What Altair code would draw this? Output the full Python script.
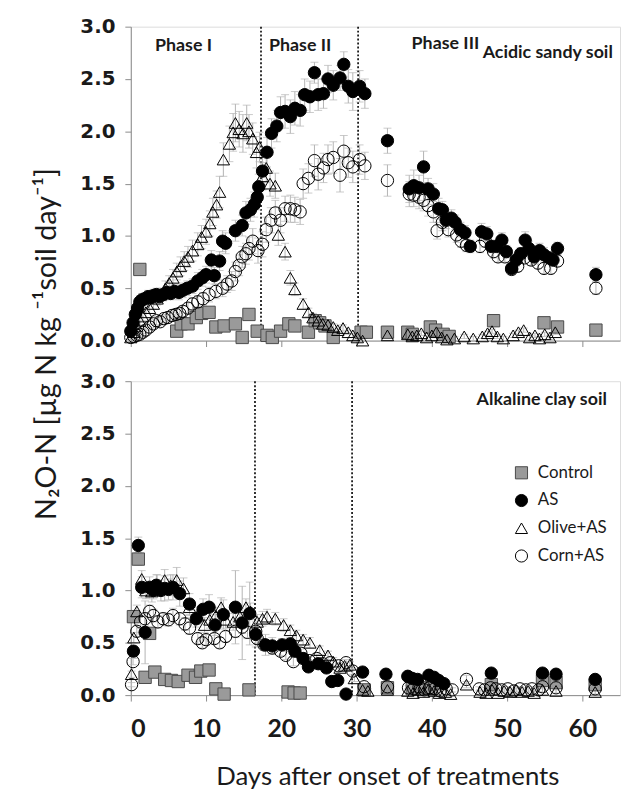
import altair as alt
import pandas as pd

# ---------------- data (day, N2O-N, error) ----------------
TREATMENTS = ["Control", "AS", "Olive+AS", "Corn+AS"]
DRAW_ORDER = ["Control", "AS", "Corn+AS", "Olive+AS"]

ACID_CONTROL = [(1.2,0.68,0.05),(6.1,0.09,0.02),(6.7,0.16,0.03),(7.6,0.16,0.03),(8.7,0.22,0.04),(9.4,0.26,0.04),
    (10.4,0.27,0.04),(11.3,0.13,0.03),(12.4,0.14,0.03),(13.9,0.16,0.03),(14.8,0.03,0.02),(15.7,0.25,0.05),
    (16.8,0.09,0.02),(18.1,0.05,0.02),(18.8,0.03,0.02),(19.9,0.09,0.02),(21.0,0.16,0.03),(21.8,0.14,0.03),
    (23.6,0.08,0.02),(24.5,0.19,0.03),(25.1,0.17,0.03),(25.8,0.14,0.03),(26.9,0.03,0.02),(30.6,0.08,0.02),
    (31.3,0.08,0.02),(34.1,0.08,0.02),(36.8,0.08,0.02),(37.4,0.06,0.02),(39.8,0.13,0.02),(40.5,0.10,0.02),
    (41.5,0.06,0.02),(42.3,0.04,0.02),(48.2,0.19,0.02),(54.9,0.17,0.02),(56.7,0.13,0.02),(61.8,0.10,0.02)]

ACID_AS = [(0.0,0.09,0.03),(0.3,0.17,0.04),(0.6,0.25,0.05),(0.9,0.31,0.05),(1.2,0.37,0.06),(1.5,0.39,0.06),
    (1.9,0.40,0.06),(2.3,0.42,0.06),(2.7,0.41,0.06),(3.0,0.43,0.06),(3.4,0.44,0.06),(3.8,0.42,0.06),(4.3,0.44,0.06),
    (4.8,0.46,0.06),(5.3,0.45,0.06),(5.8,0.47,0.07),(6.4,0.46,0.07),(6.9,0.48,0.07),(7.5,0.50,0.07),(8.2,0.52,0.07),
    (8.9,0.57,0.08),(9.5,0.60,0.08),(10.0,0.63,0.08),(10.7,0.77,0.09),(11.1,0.62,0.08),(11.8,0.76,0.09),
    (12.2,0.95,0.10),(12.6,0.93,0.10),(13.9,1.05,0.10),(14.8,1.10,0.10),(15.3,1.22,0.11),(15.9,1.25,0.11),
    (16.4,1.30,0.12),(16.8,1.37,0.12),(17.0,1.47,0.12),(17.5,1.62,0.13),(18.1,1.80,0.14),(18.7,1.98,0.14),
    (19.4,2.05,0.15),(19.9,2.18,0.15),(20.5,2.19,0.16),(21.2,2.14,0.16),(21.8,2.22,0.16),(22.5,2.20,0.15),
    (23.1,2.35,0.15),(23.8,2.33,0.15),(24.4,2.56,0.10),(24.9,2.35,0.15),(25.6,2.36,0.14),(26.2,2.50,0.13),
    (26.9,2.44,0.14),(27.8,2.51,0.12),(28.3,2.64,0.12),(28.9,2.43,0.16),(29.5,2.38,0.18),(30.4,2.43,0.15),
    (31.1,2.36,0.14),(34.1,1.91,0.12),(37.0,1.45,0.13),(37.6,1.48,0.15),(38.3,1.46,0.12),(38.9,1.66,0.15),
    (39.5,1.45,0.10),(40.2,1.40,0.10),(40.9,1.26,0.10),(41.4,1.25,0.08),(41.9,1.15,0.08),(42.6,1.17,0.08),
    (43.1,1.13,0.07),(43.8,1.06,0.07),(44.4,1.03,0.07),(45.1,0.90,0.06),(46.6,1.04,0.08),(47.3,1.02,0.07),
    (47.9,0.90,0.06),(48.6,0.90,0.06),(49.3,0.96,0.07),(49.9,0.85,0.06),(50.6,0.69,0.05),(51.2,0.77,0.06),
    (51.8,0.83,0.06),(52.4,0.96,0.08),(52.9,0.88,0.07),(53.6,0.80,0.07),(54.3,0.86,0.07),(54.9,0.82,0.07),
    (55.6,0.79,0.06),(56.1,0.77,0.06),(56.7,0.88,0.06),(61.8,0.63,0.07)]

ACID_OLIVE = [(0.0,0.03,0.02),(0.4,0.08,0.03),(0.8,0.14,0.03),(1.2,0.19,0.04),(1.6,0.23,0.04),(2.0,0.27,0.05),
    (2.5,0.31,0.05),(3.0,0.35,0.05),(3.5,0.40,0.06),(4.0,0.44,0.06),(4.6,0.50,0.07),(5.1,0.55,0.07),(5.6,0.60,0.08),
    (6.1,0.66,0.08),(6.6,0.71,0.09),(7.1,0.76,0.09),(7.6,0.80,0.10),(8.2,0.86,0.10),(8.9,0.92,0.11),(9.4,0.99,0.11),
    (10.0,1.04,0.12),(10.5,1.12,0.12),(10.9,1.23,0.13),(11.4,1.30,0.13),(11.8,1.42,0.15),(12.3,1.73,0.16),
    (13.1,1.88,0.17),(13.6,1.99,0.18),(13.9,2.08,0.18),(14.4,2.02,0.17),(14.9,1.98,0.18),(15.4,2.08,0.17),
    (15.7,2.00,0.16),(16.2,1.93,0.15),(16.7,1.80,0.15),(17.1,1.85,0.14),(17.5,1.57,0.13),(18.0,1.65,0.14),
    (18.5,1.50,0.12),(19.2,1.48,0.12),(19.6,1.01,0.10),(20.5,0.85,0.08),(21.2,0.60,0.07),(21.8,0.49,0.06),
    (22.9,0.35,0.05),(23.6,0.27,0.04),(24.2,0.22,0.04),(24.9,0.19,0.03),(25.5,0.16,0.03),(26.2,0.15,0.03),
    (26.9,0.13,0.03),(27.5,0.10,0.02),(28.2,0.12,0.03),(28.9,0.08,0.02),(29.5,0.05,0.02),(30.1,0.03,0.02),
    (30.8,0.00,0.02),(34.1,0.05,0.02),(36.8,0.06,0.02),(37.4,0.04,0.02),(38.0,0.05,0.02),(38.6,0.07,0.02),
    (39.3,0.03,0.02),(40.0,0.05,0.02),(40.6,0.08,0.02),(41.3,0.03,0.02),(42.0,0.01,0.02),(43.0,0.02,0.02),
    (44.3,0.04,0.02),(45.5,0.02,0.02),(46.7,0.04,0.02),(47.4,0.07,0.02),(48.0,0.09,0.02),(48.7,0.04,0.02),
    (49.5,0.02,0.02),(50.8,0.05,0.02),(51.5,0.08,0.02),(52.2,0.10,0.02),(53.0,0.03,0.02),(53.7,0.05,0.02),
    (54.3,0.02,0.02),(55.0,0.06,0.02),(55.7,0.03,0.02),(56.4,0.08,0.02)]

ACID_CORN = [(0.0,0.03,0.02),(0.4,0.04,0.02),(0.8,0.05,0.02),(1.2,0.06,0.02),(1.6,0.08,0.03),(2.0,0.10,0.03),
    (2.5,0.13,0.03),(3.0,0.16,0.04),(3.4,0.19,0.04),(3.9,0.18,0.04),(4.4,0.21,0.04),(4.9,0.22,0.05),(5.5,0.24,0.05),
    (6.0,0.25,0.05),(6.5,0.26,0.05),(6.9,0.28,0.05),(7.6,0.31,0.05),(8.2,0.35,0.06),(8.9,0.37,0.06),(9.6,0.40,0.06),
    (10.4,0.44,0.07),(11.3,0.47,0.07),(12.2,0.50,0.08),(12.8,0.54,0.08),(13.4,0.57,0.09),(13.9,0.66,0.09),
    (14.4,0.72,0.10),(14.8,0.80,0.10),(15.3,0.83,0.10),(15.7,0.88,0.11),(16.2,0.95,0.12),(16.9,0.86,0.12),
    (17.5,0.92,0.12),(18.0,1.06,0.12),(18.6,1.15,0.12),(19.2,1.22,0.12),(19.9,1.15,0.12),(20.5,1.26,0.12),
    (21.2,1.26,0.13),(21.8,1.25,0.12),(22.5,1.23,0.12),(22.9,1.50,0.14),(23.6,1.55,0.14),(24.4,1.72,0.15),
    (24.9,1.59,0.15),(25.6,1.65,0.14),(26.2,1.73,0.14),(26.9,1.75,0.15),(27.8,1.58,0.16),(28.3,1.81,0.15),
    (28.9,1.70,0.14),(29.5,1.66,0.15),(30.4,1.73,0.14),(31.1,1.67,0.13),(34.1,1.53,0.15),(37.0,1.40,0.12),
    (37.6,1.39,0.11),(38.3,1.37,0.11),(38.9,1.34,0.10),(39.5,1.29,0.10),(40.2,1.23,0.10),(40.7,1.05,0.08),
    (41.4,1.13,0.08),(42.2,1.06,0.07),(43.3,1.01,0.07),(43.9,0.95,0.06),(44.6,0.91,0.06),(46.4,0.90,0.06),
    (47.1,0.95,0.06),(48.2,0.85,0.06),(48.8,0.80,0.05),(49.7,0.80,0.05),(50.6,0.68,0.05),(51.4,0.71,0.05),
    (52.3,0.79,0.05),(53.2,0.77,0.05),(54.1,0.74,0.05),(54.9,0.69,0.05),(55.8,0.69,0.05),(56.7,0.76,0.05),
    (61.8,0.50,0.06)]

ALK_CONTROL = [(0.35,0.75,0.05),(1.0,1.30,0.06),(1.9,0.17,0.05),(2.5,0.59,0.05),(3.2,0.22,0.03),(4.5,0.15,0.03),
    (5.4,0.14,0.03),(6.3,0.13,0.03),(7.6,0.19,0.03),(8.6,0.17,0.03),(9.3,0.23,0.03),(10.4,0.24,0.03),
    (11.3,0.06,0.02),(12.4,0.01,0.02),(15.7,0.05,0.02),(20.9,0.03,0.02),(21.7,0.02,0.02),(22.5,0.02,0.02),
    (31.0,0.05,0.02),(34.1,0.07,0.02),(37.4,0.06,0.02),(38.7,0.07,0.02),(39.9,0.06,0.02),(47.9,0.10,0.02),
    (54.7,0.14,0.02),(56.5,0.12,0.02),(61.7,0.10,0.02)]

ALK_AS = [(0.35,0.42,0.05),(1.0,1.43,0.08),(1.45,1.03,0.10),(1.9,0.60,0.30),(2.5,1.03,0.10),(3.0,1.00,0.08),
    (3.4,1.05,0.10),(4.0,1.00,0.10),(4.5,1.02,0.12),(5.0,1.01,0.10),(5.6,1.03,0.12),(6.5,0.97,0.12),(7.8,0.87,0.10),
    (8.7,0.73,0.08),(9.6,0.82,0.10),(10.4,0.84,0.12),(11.2,0.67,0.10),(12.3,0.77,0.14),(13.9,0.84,0.35),
    (14.8,0.69,0.35),(15.8,0.78,0.30),(16.6,0.58,0.12),(17.9,0.48,0.10),(18.8,0.47,0.08),(20.1,0.48,0.06),
    (21.2,0.49,0.06),(21.8,0.42,0.05),(22.9,0.35,0.05),(23.6,0.27,0.04),(24.9,0.30,0.04),(26.0,0.26,0.04),
    (26.7,0.13,0.03),(27.5,0.14,0.03),(28.6,0.01,0.02),(30.8,0.22,0.04),(33.9,0.20,0.03),(36.8,0.18,0.03),
    (37.4,0.16,0.03),(38.1,0.15,0.03),(39.6,0.19,0.03),(40.3,0.17,0.03),(40.9,0.14,0.03),(41.6,0.11,0.02),
    (47.9,0.21,0.03),(54.7,0.21,0.03),(56.5,0.20,0.03),(61.7,0.15,0.03)]

ALK_OLIVE = [(0.1,0.20,0.03),(0.4,0.55,0.05),(0.8,0.80,0.06),(1.45,1.11,0.08),(2.0,1.00,0.08),(2.8,0.99,0.10),
    (3.5,1.05,0.10),(4.5,1.10,0.10),(5.3,1.05,0.10),(6.1,1.10,0.12),(7.0,1.02,0.10),(7.8,0.84,0.08),(8.9,0.76,0.08),
    (9.8,0.67,0.07),(10.5,0.72,0.08),(11.3,0.76,0.08),(12.0,0.84,0.09),(12.6,0.72,0.08),(13.6,0.70,0.08),
    (14.5,0.75,0.08),(15.3,0.84,0.08),(15.9,0.80,0.08),(16.8,0.70,0.07),(17.5,0.73,0.07),(18.1,0.75,0.07),
    (19.2,0.73,0.06),(20.3,0.67,0.06),(21.2,0.62,0.05),(22.0,0.57,0.05),(22.9,0.53,0.05),(23.8,0.50,0.05),
    (25.1,0.43,0.04),(26.2,0.38,0.04),(26.9,0.32,0.04),(27.8,0.26,0.03),(28.4,0.28,0.03),(29.1,0.29,0.03),
    (29.7,0.16,0.03),(30.8,0.05,0.02),(31.5,0.04,0.02),(34.1,0.05,0.02),(36.8,0.04,0.02),(37.5,0.02,0.02),
    (38.2,0.05,0.02),(38.9,0.03,0.02),(39.6,0.06,0.02),(40.3,0.04,0.02),(41.0,0.02,0.02),(41.8,0.03,0.02),
    (42.5,0.01,0.02),(44.6,0.10,0.03),(46.4,0.03,0.02),(47.2,0.02,0.02),(48.0,0.05,0.02),(48.8,0.02,0.02),
    (49.6,0.04,0.02),(50.4,0.03,0.02),(51.2,0.05,0.02),(52.0,0.03,0.02),(52.8,0.04,0.02),(53.6,0.02,0.02),
    (54.7,0.05,0.02),(56.5,0.04,0.02),(61.7,0.03,0.02)]

ALK_CORN = [(0.1,0.10,0.02),(0.3,0.32,0.03),(0.8,0.61,0.05),(1.3,0.70,0.06),(1.9,0.73,0.06),(2.5,0.80,0.06),
    (3.0,0.76,0.06),(3.6,0.70,0.06),(4.3,0.73,0.06),(5.0,0.72,0.06),(5.6,0.76,0.07),(6.5,0.73,0.06),(7.2,0.68,0.06),
    (7.8,0.64,0.06),(8.9,0.54,0.05),(9.5,0.50,0.05),(10.0,0.53,0.05),(11.1,0.54,0.05),(11.8,0.50,0.05),
    (12.6,0.56,0.05),(13.9,0.61,0.06),(14.8,0.65,0.06),(15.5,0.60,0.06),(16.6,0.61,0.06),(16.8,0.54,0.05),
    (17.7,0.48,0.05),(18.8,0.45,0.05),(19.9,0.42,0.04),(20.6,0.38,0.04),(21.6,0.32,0.04),(22.6,0.40,0.04),
    (23.7,0.33,0.04),(24.7,0.35,0.04),(25.5,0.30,0.03),(26.5,0.31,0.03),(27.6,0.28,0.03),(28.6,0.31,0.03),
    (29.5,0.23,0.03),(31.0,0.08,0.02),(34.1,0.08,0.02),(36.9,0.07,0.02),(37.6,0.06,0.02),(38.3,0.08,0.02),
    (39.0,0.05,0.02),(39.7,0.07,0.02),(40.4,0.06,0.02),(41.1,0.04,0.02),(41.9,0.06,0.02),(42.7,0.05,0.02),
    (44.6,0.15,0.04),(46.3,0.06,0.02),(47.0,0.05,0.02),(47.8,0.07,0.02),(48.5,0.06,0.02),(49.3,0.05,0.02),
    (50.1,0.06,0.02),(50.9,0.04,0.02),(51.7,0.06,0.02),(52.5,0.05,0.02),(53.3,0.06,0.02),(54.2,0.05,0.02),
    (54.7,0.08,0.02),(56.5,0.07,0.02),(61.7,0.06,0.02)]

ACID_PHASE_BOUNDS = [17.3, 30.2]
ALK_PHASE_BOUNDS = [16.5, 29.4]

ACID_LABELS = [("Phase I", 7.0, 2.81), ("Phase II", 22.5, 2.81), ("Phase III", 41.8, 2.83),
               ("Acidic sandy soil", 55.4, 2.75)]
ALK_LABELS = [("Alkaline clay soil", 54.6, 2.82)]

X_TICKS = [0, 10, 20, 30, 40, 50, 60]
Y_TICKS = [0, 0.5, 1.0, 1.5, 2.0, 2.5, 3.0]

# ---------------- styling ----------------
SHAPES = ["square", "circle", "triangle-up", "circle"]
FILLS = ["#9a9a9a", "#000000", "transparent", "transparent"]
STROKES = ["#4a4a4a", "#000000", "#000000", "#000000"]
ERR_COLOR = "#b3b3b3"
AX_COLOR = "#8c8c8c"

series = {
    "acid": {"Control": ACID_CONTROL, "AS": ACID_AS, "Olive+AS": ACID_OLIVE, "Corn+AS": ACID_CORN},
    "alk": {"Control": ALK_CONTROL, "AS": ALK_AS, "Olive+AS": ALK_OLIVE, "Corn+AS": ALK_CORN},
}
rows = []
for soil, sdict in series.items():
    for t in DRAW_ORDER:
        for d, v, e in sdict[t]:
            rows.append(dict(soil=soil, treatment=t, day=d, n2o=v, lo=max(v - e, 0.0), hi=v + e,
                             ord=DRAW_ORDER.index(t)))
df = pd.DataFrame(rows)

X_SCALE = alt.Scale(domain=[0, 65], nice=False, zero=False)
Y_SCALE = alt.Scale(domain=[0, 3], nice=False)

Y_TITLE = "N\u2082O-N [\u00b5g N kg \u207b\u00b9soil day\u207b\u00b9]"


def panel(soil, bounds, labels, bottom):
    d = df[df.soil == soil]
    xaxis = alt.Axis(values=X_TICKS, labels=bottom, grid=False, tickSize=6, tickColor=AX_COLOR,
                     domainColor=AX_COLOR, labelFont="Lato", labelFontWeight="bold", labelFontSize=25,
                     labelColor="#1a1a1a", labelPadding=16,
                     title="Days after onset of treatments" if bottom else None,
                     titleFont="Lato", titleFontWeight="normal", titleFontSize=26, titleColor="#1a1a1a",
                     titlePadding=22, titleX=259)
    if bottom:
        yaxis = alt.Axis(values=Y_TICKS, format=".1f", grid=False, tickSize=6, tickColor=AX_COLOR,
                         domainColor=AX_COLOR, labelFont="DejaVu Sans", labelFontWeight="bold",
                         labelFontSize=20, labelColor="#1a1a1a", labelPadding=10, title=None)
    else:
        yaxis = alt.Axis(values=Y_TICKS, format=".1f", grid=False, tickSize=6, tickColor=AX_COLOR,
                         domainColor=AX_COLOR, labelFont="DejaVu Sans", labelFontWeight="bold",
                         labelFontSize=20, labelColor="#1a1a1a", labelPadding=10, title=Y_TITLE,
                         titleFont="Lato", titleFontWeight="normal", titleFontSize=29,
                         titleColor="#1a1a1a", titleX=-70, titleY=320, titleAngle=270)

    def X(f="day:Q"):
        return alt.X(f, scale=X_SCALE, axis=xaxis)

    def Y(f):
        return alt.Y(f, scale=Y_SCALE, axis=yaxis)

    base = alt.Chart(d)
    rule = base.mark_rule(color=ERR_COLOR, strokeWidth=1).encode(x=X(), y=Y("lo:Q"), y2="hi:Q")
    cap_hi = base.mark_tick(orient="horizontal", color=ERR_COLOR, size=8, thickness=1).encode(x=X(), y=Y("hi:Q"))
    cap_lo = base.mark_tick(orient="horizontal", color=ERR_COLOR, size=8, thickness=1).encode(x=X(), y=Y("lo:Q"))

    if bottom:
        leg = alt.Legend(title=None, orient="none", legendX=386, legendY=84, labelFont="Lato",
                         labelFontSize=17, labelColor="#1a1a1a", symbolSize=150, symbolStrokeWidth=1,
                         rowPadding=10, labelOffset=8)
    else:
        leg = None
    pts = base.mark_point(opacity=1, fillOpacity=1, strokeWidth=1, size=155).encode(
        x=X(), y=Y("n2o:Q"),
        shape=alt.Shape("treatment:N", scale=alt.Scale(domain=TREATMENTS, range=SHAPES), legend=leg),
        fill=alt.Fill("treatment:N", scale=alt.Scale(domain=TREATMENTS, range=FILLS), legend=leg),
        stroke=alt.Stroke("treatment:N", scale=alt.Scale(domain=TREATMENTS, range=STROKES), legend=leg),
        order=alt.Order("ord:Q"),
    )
    phase = alt.Chart(pd.DataFrame({"day": bounds})).mark_rule(
        color="#000000", strokeWidth=1.6, strokeDash=[2, 2]).encode(x=X())
    lab = pd.DataFrame(labels, columns=["label", "day", "n2o"])
    txt = alt.Chart(lab).mark_text(font="Lato", fontWeight="bold", fontSize=18, color="#1a1a1a").encode(
        x=X(), y=Y("n2o:Q"), text="label:N")
    return alt.layer(phase, rule, cap_hi, cap_lo, pts, txt).properties(width=494, height=317)


top = panel("acid", ACID_PHASE_BOUNDS, ACID_LABELS, False)
bot = panel("alk", ALK_PHASE_BOUNDS, ALK_LABELS, True)

chart = alt.vconcat(top, bot, spacing=41, bounds="flush").resolve_legend(
    shape="independent", fill="independent", stroke="independent"
).properties(
    padding={"left": 24, "top": 4, "right": 0, "bottom": 0}
).configure_view(stroke=AX_COLOR, strokeWidth=1.3).configure(background="white")

chart.save("out.html", embed_options={"renderer": "svg", "actions": False})
